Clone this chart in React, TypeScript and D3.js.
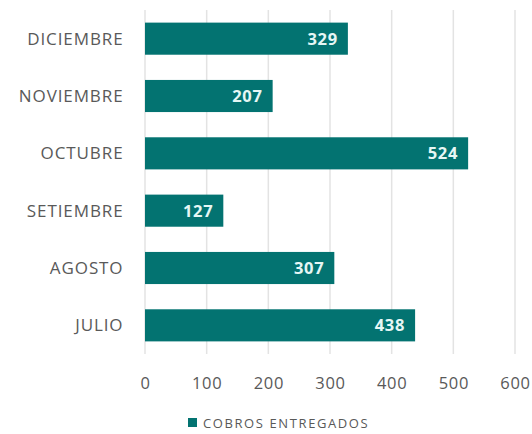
import React from "react";
import * as d3 from "d3";

const categories = ["DICIEMBRE", "NOVIEMBRE", "OCTUBRE", "SETIEMBRE", "AGOSTO", "JULIO"];
const values = [329, 207, 524, 127, 307, 438];
const xTicks = [0, 100, 200, 300, 400, 500, 600];
const seriesName = "COBROS ENTREGADOS";

const W = 532;
const H = 434;
const margin = { left: 145, right: 17, top: 10, bottom: 80 };
const FONT = "'Open Sans', sans-serif";

export default function App() {
  const x = d3.scaleLinear().domain([0, 600]).range([margin.left, W - margin.right]);
  const y = d3
    .scaleBand<string>()
    .domain(categories)
    .range([margin.top, H - margin.bottom])
    .paddingInner(0.44)
    .paddingOuter(0.22);
  const plotBottom = H - margin.bottom;

  return (
    <svg
      width={W}
      height={H}
      style={{ position: "absolute", left: 0, top: 0, background: "#fff" }}
      fontFamily={FONT}
    >
      {xTicks.map((t) => (
        <line
          key={"g" + t}
          x1={x(t)}
          x2={x(t)}
          y1={margin.top}
          y2={plotBottom}
          stroke="#e3e3e3"
          strokeWidth={1.5}
        />
      ))}
      {categories.map((c, i) => (
        <g key={c}>
          <rect
            x={x(0)}
            y={y(c)}
            width={x(values[i]) - x(0)}
            height={y.bandwidth()}
            fill="#037371"
          />
          <text
            x={x(values[i]) - 10}
            y={(y(c) as number) + y.bandwidth() / 2}
            dy="0.36em"
            textAnchor="end"
            fill="#e6f7f5"
            fontSize={16.5}
            fontWeight={700}
            letterSpacing={0.7}
          >
            {values[i]}
          </text>
          <text
            x={123.5}
            y={(y(c) as number) + y.bandwidth() / 2}
            dy="0.36em"
            textAnchor="end"
            fill="#595959"
            fontSize={17}
            letterSpacing={0.9}
          >
            {c}
          </text>
        </g>
      ))}
      {xTicks.map((t) => (
        <text
          key={"t" + t}
          x={x(t) + 0.5}
          y={383}
          dy="0.36em"
          textAnchor="middle"
          fill="#595959"
          fontSize={16.5}
          letterSpacing={0.7}
        >
          {t}
        </text>
      ))}
      <rect x={188} y={418} width={9} height={9} fill="#037371" />
      <text x={203} y={423} dy="0.36em" fill="#595959" fontSize={13} letterSpacing={1.6}>
        {seriesName}
      </text>
    </svg>
  );
}
